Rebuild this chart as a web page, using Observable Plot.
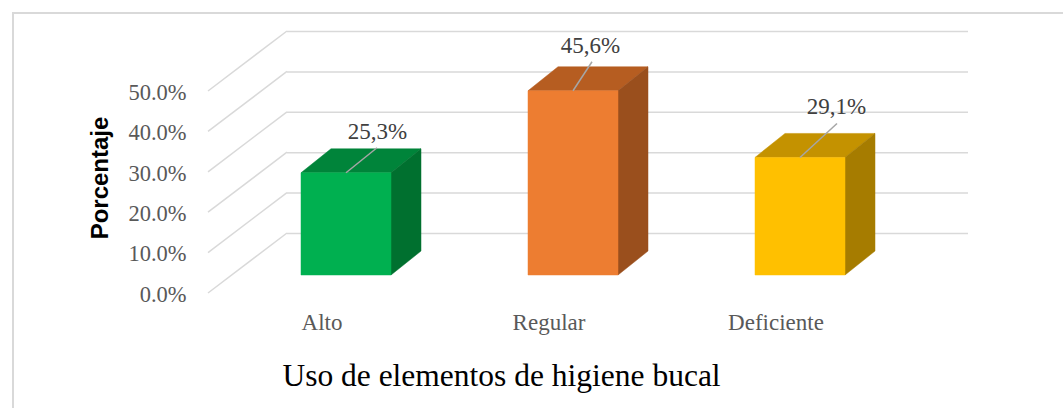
<!DOCTYPE html>
<html>
<head>
<meta charset="utf-8">
<script src="https://cdn.jsdelivr.net/npm/d3@7"></script>
<script src="https://cdn.jsdelivr.net/npm/@observablehq/plot@0.6"></script>
<style>
html, body { margin: 0; padding: 0; background: #fff; overflow: hidden; width: 1063px; height: 408px; }
#frame { position: absolute; left: 12px; top: 12px; width: 1200px; height: 600px; border-top: 2px solid #d9d9d9; border-left: 2px solid #d9d9d9; box-sizing: border-box; }
#chart { position: absolute; left: 0; top: 0; }
</style>
</head>
<body>
<div id="frame"></div>
<div id="chart"></div>
<script>
// ---- data ----
const categories = ["Alto", "Regular", "Deficiente"];
const values = [25.3, 45.6, 29.1];
const valueLabels = ["25,3%", "45,6%", "29,1%"];
const yTicks = [0, 10, 20, 30, 40, 50];
const yTickLabels = ["0.0%", "10.0%", "20.0%", "30.0%", "40.0%", "50.0%"];
const xTitle = "Uso de elementos de higiene bucal";
const yTitle = "Porcentaje";

const rows = categories.map((cat, i) => ({cat, value: values[i], label: valueLabels[i]}));

// ---- styles ----
const faceColors = {
  Alto: {front: "#00b050", top: "#00843a", side: "#00702f"},
  Regular: {front: "#ed7d31", top: "#b65d21", side: "#9a4f1d"},
  Deficiente: {front: "#ffc000", top: "#c49200", side: "#a67c00"}
};
const WALL = [79, -60];      // depth offset of back wall (px)
const FRONT = [23, -18];     // depth offset of bar front face
const BACK = [53, -42];      // depth offset of bar back face
const INSET_L = 70, INSET_R = 67;
const labelShift = {Alto: [55.5, -60], Regular: [41.5, -64], Deficiente: [60.5, -69]};
const leaderEnd = {Alto: [55.5, -43], Regular: [43.5, -47], Deficiente: [61.5, -52]};
const leaderStart = [24.5, -18];
const gridColor = "#d9d9d9";
const serif = "'Liberation Serif', 'Times New Roman', serif";
const sans = "'Liberation Sans', Arial, sans-serif";

function bandwidthOf(scales) {
  return scales.x.bandwidth ? scales.x.bandwidth() : (scales.x(categories[1]) - scales.x(categories[0]));
}

function prismRender(index, scales) {
  const g = d3.create("svg:g");
  const bw = bandwidthOf(scales);
  for (const i of index) {
    const d = rows[i];
    const x0 = scales.x(d.cat) + INSET_L, x1 = scales.x(d.cat) + bw - INSET_R;
    const yb = scales.y(0), yt = scales.y(d.value);
    const c = faceColors[d.cat];
    const P = (x, y, o) => [x + o[0], y + o[1]];
    const poly = (pts, fill) => g.append("path")
      .attr("d", "M" + pts.map(p => p.join(",")).join("L") + "Z")
      .attr("fill", fill).attr("stroke", fill).attr("stroke-width", 0.5);
    poly([P(x0, yt, FRONT), P(x0, yt, BACK), P(x1, yt, BACK), P(x1, yt, FRONT)], c.top);
    poly([P(x1, yt, FRONT), P(x1, yt, BACK), P(x1, yb, BACK), P(x1, yb, FRONT)], c.side);
    poly([P(x0, yt, FRONT), P(x1, yt, FRONT), P(x1, yb, FRONT), P(x0, yb, FRONT)], c.front);
  }
  return g.node();
}

function leaderRender(index, scales) {
  const g = d3.create("svg:g");
  const bw = bandwidthOf(scales);
  for (const i of index) {
    const d = rows[i];
    const xc = scales.x(d.cat) + bw / 2, yt = scales.y(d.value);
    const e = leaderEnd[d.cat];
    g.append("line")
      .attr("x1", xc + leaderStart[0]).attr("y1", yt + leaderStart[1])
      .attr("x2", xc + e[0]).attr("y2", yt + e[1])
      .attr("stroke", "#a6a6a6").attr("stroke-width", 1.5);
  }
  return g.node();
}

function diagRender(index, scales, values, dims) {
  const g = d3.create("svg:g");
  for (const i of index) {
    const y = scales.y(yTicks[i]);
    g.append("line")
      .attr("x1", dims.marginLeft).attr("y1", y)
      .attr("x2", dims.marginLeft + WALL[0]).attr("y2", y + WALL[1])
      .attr("stroke", gridColor).attr("stroke-width", 1.5);
  }
  return g.node();
}

const labelMarks = rows.map(r => Plot.text([r], {
  x: "cat", y: "value", text: "label",
  dx: labelShift[r.cat][0], dy: labelShift[r.cat][1],
  fontSize: 23, fontFamily: serif, fill: "#404040",
  textAnchor: "middle", lineAnchor: "middle"
}));

const chart = Plot.plot({
  width: 1063,
  height: 408,
  marginLeft: 208,
  marginRight: 174,
  marginTop: 91,
  marginBottom: 115,
  style: {background: "transparent", fontFamily: serif},
  x: {type: "band", domain: categories, padding: 0},
  y: {domain: [0, 50]},
  marks: [
    Plot.ruleY(yTicks, {y: d => d, render: diagRender}),
    Plot.ruleY(yTicks, {y: d => d, dx: WALL[0], dy: WALL[1], stroke: gridColor, strokeWidth: 1.5}),
    Plot.barY(rows, {x: "cat", y: "value", render: prismRender}),
    Plot.barY(rows, {x: "cat", y: "value", render: leaderRender}),
    ...labelMarks,
    Plot.axisY(yTicks, {
      tickSize: 0, tickPadding: 22, dy: 1,
      tickFormat: d => yTickLabels[yTicks.indexOf(d)],
      fontSize: 22.5, fontFamily: serif, fill: "#595959", label: null
    }),
    Plot.axisX({
      tickSize: 0, tickPadding: 20,
      fontSize: 23, fontFamily: serif, fill: "#595959", label: null
    }),
    Plot.text([yTitle], {
      text: d => d, frameAnchor: "left", rotate: -90,
      textAnchor: "middle", lineAnchor: "middle",
      dx: -107.7, dy: -14.5,
      fontSize: 24, fontWeight: "bold", fontFamily: sans, fill: "#000"
    }),
    Plot.text([xTitle], {
      text: d => d, frameAnchor: "bottom",
      textAnchor: "middle", lineAnchor: "middle",
      dx: -47.5, dy: 82,
      fontSize: 31.5, fontFamily: serif, fill: "#000"
    })
  ]
});

document.getElementById("chart").appendChild(chart);
</script>
</body>
</html>
